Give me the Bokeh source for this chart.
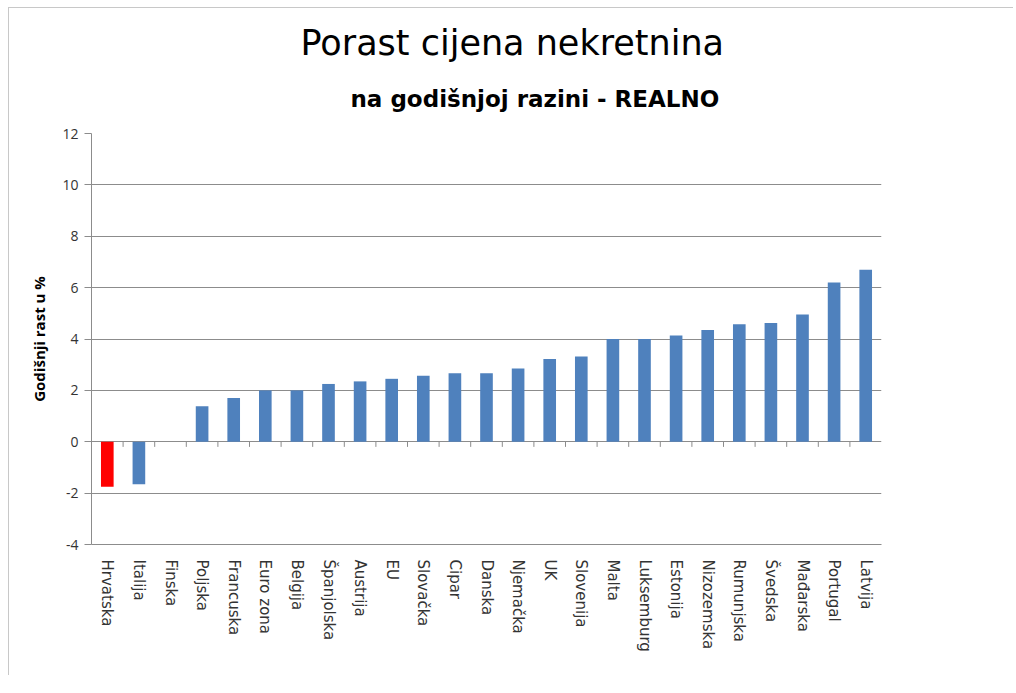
import math
from bokeh.plotting import figure
from bokeh.models import (Title, SingleIntervalTicker, FactorRange, Range1d,
                          ColumnDataSource)
from bokeh.embed import file_html
from bokeh.resources import INLINE

# ---- data ----
countries = ["Hrvatska", "Italija", "Finska", "Poljska", "Francuska", "Euro zona",
             "Belgija", "Španjolska", "Austrija", "EU", "Slovačka", "Cipar",
             "Danska", "Njemačka", "UK", "Slovenija", "Malta", "Luksemburg",
             "Estonija", "Nizozemska", "Rumunjska", "Švedska", "Mađarska",
             "Portugal", "Latvija"]
growth = [-1.75, -1.65, 0.0, 1.38, 1.70, 2.0, 2.0, 2.25, 2.35, 2.45, 2.57, 2.67,
          2.67, 2.85, 3.22, 3.32, 4.0, 4.0, 4.14, 4.35, 4.57, 4.62, 4.95, 6.2, 6.7]
highlight = "Hrvatska"

title_text = "Porast cijena nekretnina"
subtitle_text = "na godišnjoj razini - REALNO"
y_label = "Godišnji rast u %"
y_min, y_max, y_step = -4, 12, 2
y_ticks = list(range(y_min, y_max + 1, y_step))

BLUE = "#4F81BD"
RED = "#FF0000"
GRID = "#8c8c8c"

bar_colors = [RED if c == highlight else BLUE for c in countries]
src = ColumnDataSource(dict(country=countries, growth=growth, color=bar_colors))

p = figure(width=1005, height=668,
           x_range=FactorRange(factors=countries, range_padding=0),
           y_range=Range1d(y_min, y_max),
           output_backend="svg", toolbar_location=None,
           min_border_left=82, min_border_right=133,
           min_border_top=125, min_border_bottom=132)
p.styles = {"margin-left": "8px", "margin-top": "7px",
            "border-left": "1px solid #c8c8c8", "border-top": "1px solid #c8c8c8"}
p.title.visible = False
p.outline_line_color = None
p.background_fill_color = "white"
p.border_fill_color = "white"

p.vbar(x="country", top="growth", bottom=0, width=0.4, color="color",
       line_color=None, source=src)

# category separator ticks on the zero line (Excel style)
tick_len = 0.2
bounds = list(range(1, len(countries)))
p.segment(x0=bounds, x1=bounds, y0=[0] * len(bounds), y1=[-tick_len] * len(bounds),
          line_color=GRID, line_width=1)

# grid
p.xgrid.visible = False
p.ygrid.grid_line_color = GRID
p.ygrid.grid_line_width = 1

# y axis
p.yaxis.ticker = SingleIntervalTicker(interval=y_step)
p.yaxis.major_label_overrides = {t: str(t) for t in y_ticks}
p.yaxis.minor_tick_line_color = None
p.yaxis.major_tick_in = 0
p.yaxis.major_tick_out = 7
p.yaxis.major_tick_line_color = GRID
p.yaxis.axis_line_color = GRID
p.yaxis.major_label_text_font = "Open Sans"
p.yaxis.major_label_text_font_size = "14px"
p.yaxis.major_label_text_color = "#333333"
p.yaxis.major_label_standoff = 6
p.yaxis.axis_label = y_label
p.yaxis.axis_label_text_font = "Open Sans"
p.yaxis.axis_label_text_font_style = "bold"
p.yaxis.axis_label_text_font_size = "15px"
p.yaxis.axis_label_text_color = "#000000"
p.yaxis.axis_label_standoff = 10

# x axis
p.xaxis.major_label_orientation = -math.pi / 2
p.xaxis.major_tick_line_color = None
p.xaxis.minor_tick_line_color = None
p.xaxis.axis_line_color = GRID
p.xaxis.major_label_text_font = "DejaVu Sans"
p.xaxis.major_label_text_font_size = "15px"
p.xaxis.major_label_text_color = "#333333"
p.xaxis.major_label_standoff = 9

# titles (first added sits closest to the plot area)
p.add_layout(Title(text=subtitle_text, align="left", offset=259, standoff=43,
                   text_font="DejaVu Sans", text_font_style="bold",
                   text_font_size="23px", text_color="#000000"), "above")
p.add_layout(Title(text=title_text, align="left", offset=209, standoff=0,
                   text_font="DejaVu Sans", text_font_style="normal",
                   text_font_size="35px", text_color="#000000"), "above")

open("out.html", "w").write(file_html(p, INLINE))
